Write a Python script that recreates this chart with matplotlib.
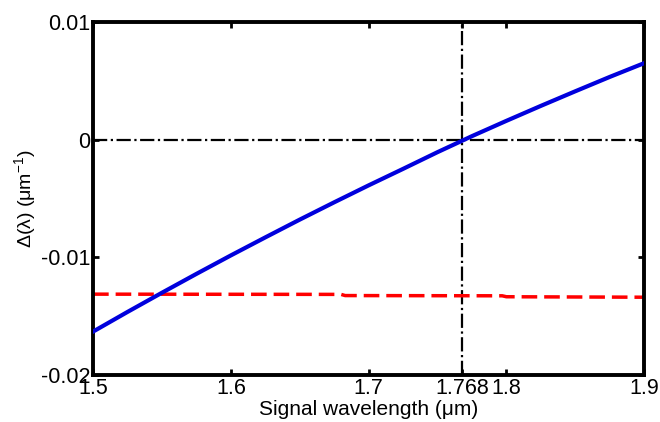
import numpy as np
import matplotlib
matplotlib.use("Agg")
import matplotlib.pyplot as plt

plt.rcParams['font.family'] = ['Liberation Sans', 'DejaVu Sans']
plt.rcParams['mathtext.fontset'] = 'custom'
plt.rcParams['mathtext.rm'] = 'Liberation Sans'
plt.rcParams['mathtext.it'] = 'Liberation Sans'

# mismatch curve (blue)
wl = [1.5, 1.525, 1.55, 1.575, 1.6, 1.625, 1.65, 1.675, 1.7, 1.725, 1.75,
      1.775, 1.8, 1.825, 1.85, 1.875, 1.9]
delta = [-0.0163, -0.01463, -0.01300, -0.01140, -0.00983, -0.00830, -0.00679,
         -0.00532, -0.00388, -0.00248, -0.00106, 0.00030, 0.00160, 0.00287,
         0.00411, 0.00533, 0.00650]

# red dashed level
wl_red = [1.5, 1.68, 1.683, 1.797, 1.8, 1.9]
red = [-0.01312, -0.01314, -0.01324, -0.01326, -0.01334, -0.01338]

x_cross = 1.768
xticks = [1.5, 1.6, 1.7, 1.768, 1.8, 1.9]
xticklabels = ['1.5', '1.6', '1.7', '1.768', '1.8', '1.9']
yticks = [-0.02, -0.01, 0, 0.01]
yticklabels = ['-0.02', '-0.01', '0', '0.01']

fig = plt.figure(figsize=(6.6, 4.22), dpi=100)
ax = fig.add_axes([0.141, 0.111, 0.835, 0.837])

ax.axhline(0, color='black', ls='-.', lw=1.6, zorder=1)
ax.axvline(x_cross, color='black', ls='-.', lw=1.6, zorder=1)
ax.plot(wl_red, red, color='red', ls='--', lw=2.5, dashes=(4.5, 2), zorder=2)
ax.plot(wl, delta, color='#0000dd', lw=3, zorder=3)

ax.set_xlim(1.5, 1.9)
ax.set_ylim(-0.02, 0.01)
ax.set_xticks(xticks)
ax.set_xticklabels(xticklabels)
ax.set_yticks(yticks)
ax.set_yticklabels(yticklabels)
ax.tick_params(direction='in', length=4, width=2, labelsize=15.5,
               top=True, right=True, pad=2)
for s in ax.spines.values():
    s.set_linewidth(2.8)

ax.set_xlabel('Signal wavelength (μm)', fontsize=15, labelpad=1)
ax.set_ylabel('Δ(λ) (μm$^{-1}$)', fontsize=14, labelpad=2)

fig.savefig('out.png', dpi=100)
